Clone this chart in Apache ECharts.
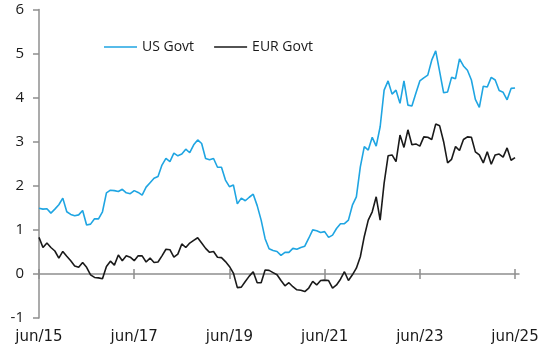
<!DOCTYPE html>
<html>
<head>
<meta charset="utf-8">
<script src="https://cdn.jsdelivr.net/npm/echarts@6/dist/echarts.min.js"></script>
<style>html,body{margin:0;padding:0;background:#fff}#c{width:550px;height:355px}</style>
</head>
<body>
<div id="c"></div>
<script>
// Monthly categories jun/15 .. jul/25
var monthNames = ['jan','feb','mar','abr','mai','jun','jul','ago','set','out','nov','dez'];
var categories = [];
for (var i = 0; i < 122; i++) {
  var mi = (5 + i) % 12;
  var yr = 15 + Math.floor((5 + i) / 12);
  categories.push(monthNames[mi] + '/' + yr);
}
var tickLabels = ['jun/15','jun/17','jun/19','jun/21','jun/23','jun/25'];

var usGovt = [
 1.49,1.47,1.48,1.38,1.47,1.57,1.72,1.41,1.35,1.32,
 1.34,1.44,1.11,1.13,1.25,1.25,1.41,1.84,1.90,1.89,
 1.87,1.92,1.84,1.82,1.89,1.85,1.79,1.97,2.07,2.17,
 2.21,2.47,2.62,2.55,2.74,2.68,2.72,2.83,2.75,2.93,
 3.04,2.96,2.62,2.59,2.62,2.42,2.42,2.13,1.98,2.02,
 1.59,1.72,1.66,1.74,1.81,1.55,1.22,0.80,0.57,0.53,
 0.51,0.42,0.49,0.49,0.58,0.56,0.60,0.63,0.81,1.00,
 0.98,0.94,0.96,0.83,0.88,1.03,1.14,1.14,1.22,1.56,
 1.75,2.43,2.89,2.81,3.10,2.90,3.34,4.17,4.38,4.08,
 4.17,3.87,4.38,3.83,3.81,4.10,4.38,4.45,4.51,4.85,
 5.06,4.59,4.11,4.13,4.46,4.43,4.88,4.72,4.62,4.40,
 3.96,3.78,4.26,4.24,4.46,4.40,4.16,4.12,3.95,4.21,
 4.22
];
var eurGovt = [
 0.83,0.60,0.70,0.60,0.52,0.36,0.51,0.40,0.30,0.18,
 0.15,0.26,0.15,-0.02,-0.08,-0.09,-0.11,0.17,0.29,0.20,
 0.43,0.30,0.41,0.38,0.30,0.41,0.41,0.27,0.36,0.26,
 0.27,0.41,0.56,0.55,0.38,0.45,0.68,0.60,0.70,0.76,
 0.82,0.70,0.58,0.49,0.51,0.38,0.37,0.28,0.17,0.02,
 -0.31,-0.30,-0.17,-0.05,0.05,-0.20,-0.20,0.09,0.08,0.03,
 -0.02,-0.15,-0.27,-0.20,-0.29,-0.36,-0.37,-0.40,-0.32,-0.17,
 -0.25,-0.15,-0.14,-0.15,-0.32,-0.25,-0.12,0.05,-0.15,-0.02,
 0.13,0.39,0.85,1.22,1.41,1.75,1.22,2.06,2.68,2.70,
 2.55,3.15,2.87,3.27,2.93,2.95,2.90,3.11,3.10,3.05,
 3.40,3.36,3.00,2.52,2.60,2.89,2.80,3.05,3.11,3.10,
 2.77,2.70,2.52,2.77,2.49,2.70,2.72,2.65,2.86,2.58,
 2.64
];

var axisGrey = '#8f8f8f';
var txt = '#1a1a1a';
function showTick(idx, val) { return tickLabels.indexOf(val) >= 0; }

var chart = echarts.init(document.getElementById('c'), null, {renderer: 'canvas'});
chart.setOption({
  animation: false,
  backgroundColor: '#ffffff',
  grid: {left: 39, right: 31, top: 9.5, bottom: 37, containLabel: false},
  legend: {
    left: 99, top: 35,
    icon: 'rect',
    itemWidth: 33, itemHeight: 1.6, itemGap: 20,
    textStyle: {fontFamily: 'Open Sans', fontSize: 14, color: txt},
    data: ['US Govt', 'EUR Govt']
  },
  xAxis: [
    { // labels at bottom
      type: 'category', data: categories, boundaryGap: false,
      axisLine: {show: false, onZero: false},
      axisTick: {show: false},
      axisLabel: {interval: showTick, margin: 12, fontFamily: 'DejaVu Sans', fontSize: 15, color: txt},
      splitLine: {show: false}
    },
    { // zero line with downward ticks
      type: 'category', data: categories, boundaryGap: false, position: 'bottom',
      axisLine: {show: true, onZero: true, onZeroAxisIndex: 0, lineStyle: {color: axisGrey, width: 1.5}},
      axisTick: {show: true, interval: showTick, length: 5, lineStyle: {color: axisGrey, width: 1.5}},
      axisLabel: {show: false},
      splitLine: {show: false}
    },
    { // upward ticks
      type: 'category', data: categories, boundaryGap: false, position: 'bottom',
      axisLine: {show: false, onZero: true, onZeroAxisIndex: 0},
      axisTick: {show: true, inside: true, interval: showTick, length: 5, lineStyle: {color: axisGrey, width: 1.5}},
      axisLabel: {show: false},
      splitLine: {show: false}
    }
  ],
  yAxis: {
    type: 'value', min: -1, max: 6, interval: 1,
    axisLine: {show: true, lineStyle: {color: axisGrey, width: 1.5}},
    axisTick: {show: true, length: 6, lineStyle: {color: axisGrey, width: 1.5}},
    axisLabel: {margin: 15, fontFamily: 'Open Sans', fontSize: 15, color: txt},
    splitLine: {show: false}
  },
  series: [
    {name: 'US Govt', type: 'line', data: usGovt, symbol: 'none', showSymbol: false,
     lineStyle: {color: '#1fa5e2', width: 1.6}, itemStyle: {color: '#1fa5e2'}, z: 3},
    {name: 'EUR Govt', type: 'line', data: eurGovt, symbol: 'none', showSymbol: false,
     lineStyle: {color: '#1a1a1a', width: 1.6}, itemStyle: {color: '#1a1a1a'}, z: 3}
  ]
});
</script>
</body>
</html>
